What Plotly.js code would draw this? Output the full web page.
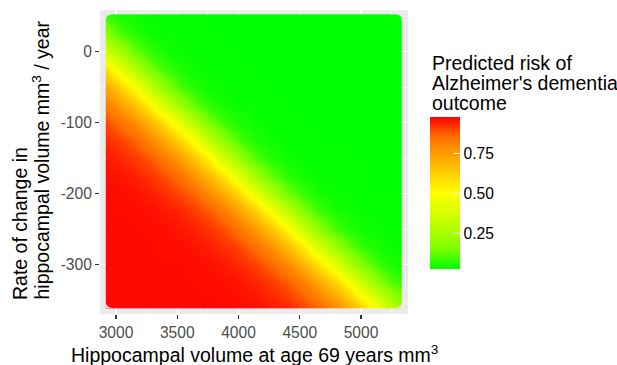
<!DOCTYPE html>
<html>
<head>
<meta charset="utf-8">
<script src="https://cdn.plot.ly/plotly-3.0.1.min.js"></script>
<style>
html,body{margin:0;padding:0;background:#ffffff;}
#chart{width:617px;height:365px;}
</style>
</head>
<body>
<div id="chart"></div>
<script>
// ---- Data (estimated from the colours of the reference picture) ----
// Hippocampal volume at age 69 (mm^3) - grid columns
const hippVolume = [2920, 2928, 3025, 3150, 3275, 3400, 3525, 3650, 3775, 3900, 4025, 4150,
                    4275, 4400, 4525, 4650, 4775, 4900, 5025, 5150, 5235, 5320, 5330];
// Rate of change in hippocampal volume (mm^3 / year) - grid rows
const rateChange = [50, 45, 25, 0, -25, -50, -75, -100, -125, -150, -175, -200, -225, -250, -275, -300, -325, -353, -358];
// Predicted risk of Alzheimer's dementia outcome, one array per row of rateChange
const riskRate50   = [0.085, 0.082, 0.056, 0.040, 0.033, 0.031, 0.030, 0.029, 0.028, 0.028, 0.028, 0.028, 0.028, 0.028, 0.028, 0.028, 0.028, 0.028, 0.028, 0.028, 0.028, 0.028, 0.028];
const riskRate45   = [0.095, 0.093, 0.061, 0.042, 0.034, 0.032, 0.030, 0.029, 0.028, 0.028, 0.028, 0.028, 0.028, 0.028, 0.028, 0.028, 0.028, 0.028, 0.028, 0.028, 0.028, 0.028, 0.028];
const riskRate25   = [0.184, 0.178, 0.106, 0.061, 0.042, 0.034, 0.032, 0.030, 0.029, 0.028, 0.028, 0.028, 0.028, 0.028, 0.028, 0.028, 0.028, 0.028, 0.028, 0.028, 0.028, 0.028, 0.028];
const riskRate0    = [0.372, 0.361, 0.243, 0.131, 0.073, 0.047, 0.036, 0.032, 0.030, 0.029, 0.028, 0.028, 0.028, 0.028, 0.028, 0.028, 0.028, 0.028, 0.028, 0.028, 0.028, 0.028, 0.028];
const riskRateM25  = [0.573, 0.564, 0.448, 0.282, 0.156, 0.084, 0.052, 0.038, 0.033, 0.031, 0.029, 0.028, 0.028, 0.028, 0.028, 0.028, 0.028, 0.028, 0.028, 0.028, 0.028, 0.028, 0.028];
const riskRateM50  = [0.717, 0.711, 0.630, 0.495, 0.321, 0.181, 0.095, 0.057, 0.040, 0.034, 0.031, 0.030, 0.029, 0.028, 0.028, 0.028, 0.028, 0.028, 0.028, 0.028, 0.028, 0.028, 0.028];
const riskRateM75  = [0.821, 0.817, 0.755, 0.658, 0.532, 0.367, 0.216, 0.114, 0.065, 0.044, 0.034, 0.032, 0.030, 0.029, 0.028, 0.028, 0.028, 0.028, 0.028, 0.028, 0.028, 0.028, 0.028];
const riskRateM100 = [0.887, 0.885, 0.848, 0.778, 0.686, 0.569, 0.414, 0.255, 0.139, 0.076, 0.049, 0.037, 0.033, 0.031, 0.029, 0.028, 0.028, 0.028, 0.028, 0.028, 0.028, 0.028, 0.028];
const riskRateM125 = [0.925, 0.924, 0.903, 0.864, 0.800, 0.714, 0.605, 0.462, 0.294, 0.164, 0.087, 0.054, 0.039, 0.033, 0.031, 0.030, 0.028, 0.028, 0.028, 0.028, 0.028, 0.028, 0.028];
const riskRateM150 = [0.944, 0.943, 0.933, 0.910, 0.876, 0.819, 0.740, 0.639, 0.507, 0.333, 0.189, 0.098, 0.059, 0.041, 0.034, 0.032, 0.030, 0.029, 0.028, 0.028, 0.028, 0.028, 0.028];
const riskRateM175 = [0.957, 0.956, 0.950, 0.937, 0.917, 0.886, 0.836, 0.762, 0.667, 0.543, 0.381, 0.227, 0.121, 0.068, 0.045, 0.035, 0.032, 0.030, 0.029, 0.028, 0.028, 0.028, 0.028];
const riskRateM200 = [0.962, 0.962, 0.958, 0.953, 0.940, 0.924, 0.896, 0.853, 0.784, 0.694, 0.579, 0.428, 0.266, 0.146, 0.079, 0.050, 0.037, 0.033, 0.031, 0.029, 0.029, 0.028, 0.028];
const riskRateM225 = [0.963, 0.963, 0.963, 0.960, 0.955, 0.944, 0.931, 0.906, 0.869, 0.806, 0.722, 0.616, 0.476, 0.305, 0.171, 0.090, 0.055, 0.040, 0.033, 0.031, 0.030, 0.029, 0.029];
const riskRateM250 = [0.963, 0.963, 0.963, 0.963, 0.961, 0.957, 0.947, 0.934, 0.913, 0.879, 0.824, 0.746, 0.647, 0.518, 0.347, 0.200, 0.103, 0.060, 0.042, 0.034, 0.032, 0.031, 0.031];
const riskRateM275 = [0.963, 0.963, 0.963, 0.963, 0.963, 0.962, 0.958, 0.951, 0.938, 0.919, 0.889, 0.841, 0.768, 0.675, 0.554, 0.395, 0.239, 0.128, 0.071, 0.047, 0.038, 0.034, 0.034];
const riskRateM300 = [0.963, 0.963, 0.963, 0.963, 0.963, 0.963, 0.963, 0.959, 0.954, 0.941, 0.926, 0.899, 0.858, 0.791, 0.703, 0.590, 0.442, 0.278, 0.154, 0.082, 0.058, 0.045, 0.043];
const riskRateM325 = [0.963, 0.963, 0.963, 0.963, 0.963, 0.963, 0.963, 0.963, 0.960, 0.956, 0.945, 0.932, 0.908, 0.872, 0.812, 0.730, 0.626, 0.490, 0.317, 0.179, 0.116, 0.079, 0.075];
const riskRateM353 = [0.963, 0.963, 0.963, 0.963, 0.963, 0.963, 0.963, 0.963, 0.963, 0.962, 0.958, 0.950, 0.937, 0.918, 0.888, 0.838, 0.765, 0.671, 0.548, 0.388, 0.280, 0.186, 0.177];
const riskRateM358 = [0.963, 0.963, 0.963, 0.963, 0.963, 0.963, 0.963, 0.963, 0.963, 0.963, 0.959, 0.953, 0.940, 0.925, 0.897, 0.854, 0.786, 0.697, 0.582, 0.432, 0.316, 0.219, 0.205];

const riskMin = 0.028, riskMax = 0.972;   // colour scale limits (midpoint 0.5)

// Axis breaks / labels
const xTickVals = [3000, 3500, 4000, 4500, 5000];
const xTickText = ['3000', '3500', '4000', '4500', '5000'];
const xMinorVals = [3250, 3750, 4250, 4750, 5250];
const yTickVals = [-300, -200, -100, 0];
const yTickText = ['-300', '-200', '-100', '0'];
const yMinorVals = [-350, -250, -150, -50, 50];
const cbTickVals = [0.25, 0.5, 0.75];
const cbTickText = ['0.25', '0.50', '0.75'];

const xTitle = 'Hippocampal volume at age 69 years mm<sup>3</sup>';
const yTitleLine1 = 'Rate of change in';
const yTitleLine2 = 'hippocampal volume mm<sup>3</sup> / year';
const legendTitle = ['Predicted risk of', "Alzheimer's dementia", 'outcome'];

// ---- Layout constants ----
const W = 617, H = 365;
const M = {l: 100, r: 209, t: 10, b: 51};
const PW = W - M.l - M.r, PH = H - M.t - M.b;
const xRange = [2869, 5384];
const yRange = [-369, 58.6];
const FONT = 'Liberation Sans, Arial, Helvetica, sans-serif';
const PANEL = '#EBEBEB';

const px2x = px => (px - M.l) / PW;
const py2y = py => (H - M.b - py) / PH;

const z = [riskRate50, riskRate45, riskRate25, riskRate0, riskRateM25, riskRateM50, riskRateM75,
           riskRateM100, riskRateM125, riskRateM150, riskRateM175, riskRateM200, riskRateM225,
           riskRateM250, riskRateM275, riskRateM300, riskRateM325, riskRateM353, riskRateM358];

const colorscale = [
  [0, '#00FF00'], [0.125, '#79FF00'], [0.25, '#AEFF00'], [0.375, '#D8FF00'],
  [0.5, '#FFFF00'], [0.625, '#FFD100'], [0.75, '#FFA100'], [0.875, '#FF6B00'], [1, '#FF0000']
];

const trace = {
  type: 'heatmap',
  x: hippVolume,
  y: rateChange,
  z: z,
  zsmooth: 'best',
  zmin: riskMin,
  zmax: riskMax,
  colorscale: colorscale,
  hoverinfo: 'skip',
  colorbar: {
    xref: 'container', yref: 'container',
    x: 430 / W, xanchor: 'left',
    y: 1 - 141 / H, yanchor: 'top',
    len: 152, lenmode: 'pixels',
    thickness: 30, thicknessmode: 'pixels',
    xpad: 0, ypad: 0, outlinewidth: 0,
    tickmode: 'array', tickvals: cbTickVals, ticktext: cbTickText,
    ticks: 'inside', ticklen: 6, tickcolor: '#ffffff', tickwidth: 1,
    tickfont: {family: FONT, size: 15.6, color: '#000000'}
  }
};

// heatmap outer edges (for rounded corner masks)
const n = hippVolume.length, m = rateChange.length;
const xL = 1.5 * hippVolume[0] - 0.5 * hippVolume[1];
const xR = 1.5 * hippVolume[n - 1] - 0.5 * hippVolume[n - 2];
const yT = 1.5 * rateChange[0] - 0.5 * rateChange[1];
const yB = 1.5 * rateChange[m - 1] - 0.5 * rateChange[m - 2];
const rad = 7;
const rx = rad * (xRange[1] - xRange[0]) / PW;
const ry = rad * (yRange[1] - yRange[0]) / PH;
function corner(cx, cy, sx, sy) {
  return {
    type: 'path', xref: 'x', yref: 'y', layer: 'above',
    path: `M ${cx},${cy} L ${cx + sx * rx},${cy} Q ${cx},${cy} ${cx},${cy + sy * ry} Z`,
    fillcolor: PANEL, line: {width: 0}
  };
}
const shapes = [
  corner(xL, yT, 1, -1), corner(xR, yT, -1, -1),
  corner(xL, yB, 1, 1), corner(xR, yB, -1, 1)
];

const annFont = {family: FONT, size: 19.5, color: '#000000'};
const annotations = [
  {text: xTitle, xref: 'paper', yref: 'paper', x: 0.5, y: py2y(353.5), xanchor: 'center', yanchor: 'middle',
   showarrow: false, font: annFont},
  {text: yTitleLine1, xref: 'paper', yref: 'paper', x: px2x(19.5), y: py2y(302), xanchor: 'center', yanchor: 'bottom',
   textangle: -90, showarrow: false, font: annFont},
  {text: yTitleLine2, xref: 'paper', yref: 'paper', x: px2x(40), y: py2y(302), xanchor: 'center', yanchor: 'bottom',
   textangle: -90, showarrow: false, font: annFont},
  {text: legendTitle[0], xref: 'paper', yref: 'paper', x: px2x(430), y: py2y(62.5), xanchor: 'left', yanchor: 'middle',
   showarrow: false, font: annFont},
  {text: legendTitle[1], xref: 'paper', yref: 'paper', x: px2x(430), y: py2y(82.5), xanchor: 'left', yanchor: 'middle',
   showarrow: false, font: annFont},
  {text: legendTitle[2], xref: 'paper', yref: 'paper', x: px2x(430), y: py2y(102.5), xanchor: 'left', yanchor: 'middle',
   showarrow: false, font: annFont}
];

const axisCommon = {
  showline: false, zeroline: false,
  showgrid: true, gridcolor: '#ffffff', gridwidth: 1.1,
  ticks: 'outside', ticklen: 4, tickwidth: 1.1, tickcolor: '#333333',
  tickfont: {family: FONT, size: 15.6, color: '#4D4D4D'},
  tickmode: 'array', fixedrange: true
};

const layout = {
  width: W, height: H,
  margin: M,
  paper_bgcolor: '#ffffff',
  plot_bgcolor: PANEL,
  font: {family: FONT, color: '#000000'},
  xaxis: Object.assign({}, axisCommon, {
    range: xRange, tickvals: xTickVals, ticktext: xTickText,
    minor: {tickvals: xMinorVals, showgrid: true, gridcolor: '#ffffff', gridwidth: 0.55, ticks: ''}
  }),
  yaxis: Object.assign({}, axisCommon, {
    range: yRange, tickvals: yTickVals, ticktext: yTickText,
    minor: {tickvals: yMinorVals, showgrid: true, gridcolor: '#ffffff', gridwidth: 0.55, ticks: ''}
  }),
  shapes: shapes,
  annotations: annotations,
  showlegend: false
};

Plotly.newPlot('chart', [trace], layout, {staticPlot: true, displayModeBar: false});
</script>
</body>
</html>
